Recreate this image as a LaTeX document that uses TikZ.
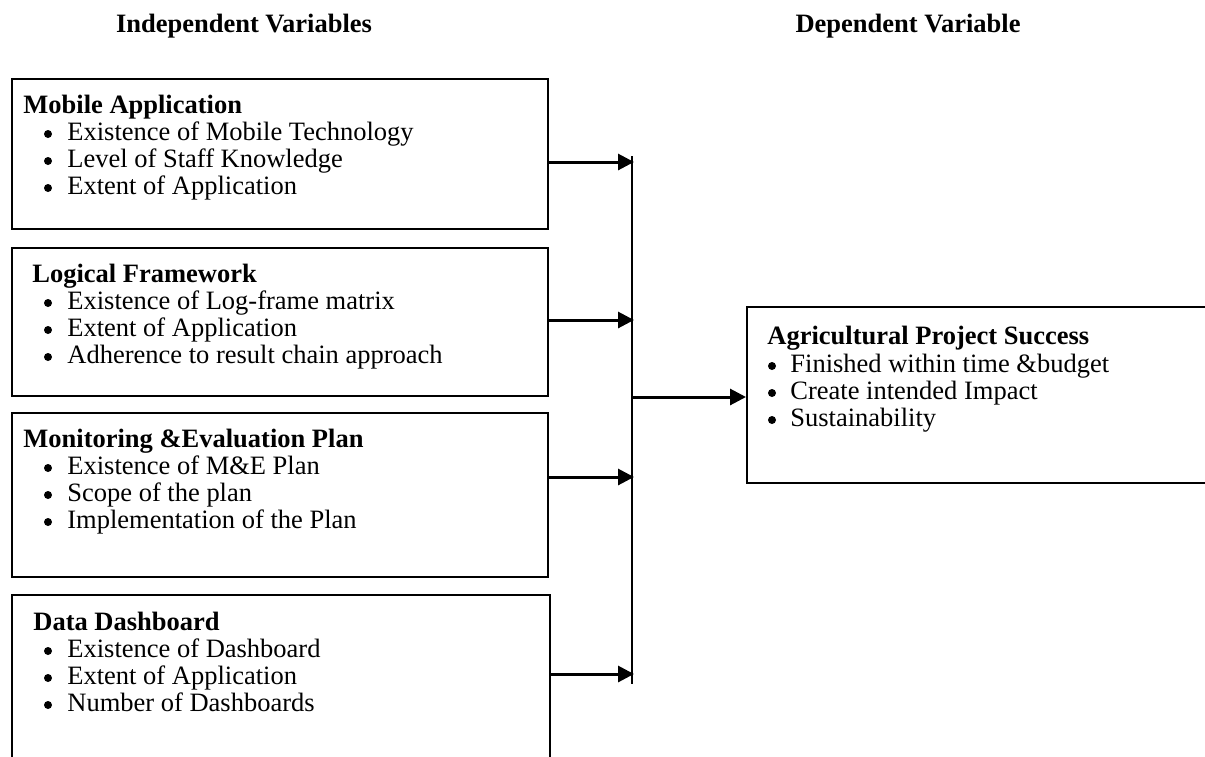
\documentclass[tikz,border=0pt]{standalone}
\usepackage{fontspec}
\setmainfont{Liberation Serif}
\usetikzlibrary{arrows.meta}
\begin{document}
\begin{tikzpicture}[x=0.5pt,y=-0.5pt,
  hdr/.style={font=\fontsize{13.25pt}{15pt}\selectfont\bfseries, inner sep=0pt, anchor=base},
  ttl/.style={font=\fontsize{13.25pt}{15pt}\selectfont\bfseries, inner sep=0pt, anchor=base west},
  itm/.style={font=\fontsize{13.25pt}{15pt}\selectfont, inner sep=0pt, anchor=base west},
  bul/.style={circle, fill=black, inner sep=0pt, minimum size=4pt, yshift=3pt},
  box/.style={draw, line width=1pt, anchor=north west, inner sep=0pt},
  arr/.style={line width=1.5pt, -{Triangle[length=8pt,width=8pt]}},
  vline/.style={line width=1pt}]
\useasboundingbox (0,0) rectangle (1205,756);
\clip (0,0) rectangle (1205,756);
% headers
\node[hdr] (hI) at (244,32) {Independent Variables};
\node[hdr] (hD) at (908,32) {Dependent Variable};
% boxes
\node[box, minimum width=268pt, minimum height=75pt] (mob) at (11,78) {};
\node[box, minimum width=268pt, minimum height=74pt] (log) at (11,247) {};
\node[box, minimum width=268pt, minimum height=82pt] (mne) at (11,412) {};
\node[box, minimum width=269pt, minimum height=83pt] (dash) at (11,594) {};
\node[box, minimum width=231pt, minimum height=88pt] (dv) at (746,306) {};
% box 1
\node[ttl] (t1) at (23,113) {Mobile Application};
\node[bul] (b11) at (48,140) {}; \node[itm] (i11) at (67,140) {Existence of Mobile Technology};
\node[bul] (b12) at (48,167) {}; \node[itm] (i12) at (67,167) {Level of Staff Knowledge};
\node[bul] (b13) at (48,194) {}; \node[itm] (i13) at (67,194) {Extent of Application};
% box 2
\node[ttl] (t2) at (32,282) {Logical Framework};
\node[bul] (b21) at (48,309) {}; \node[itm] (i21) at (67,309) {Existence of Log-frame matrix};
\node[bul] (b22) at (48,336) {}; \node[itm] (i22) at (67,336) {Extent of Application};
\node[bul] (b23) at (48,363) {}; \node[itm] (i23) at (67,363) {Adherence to result chain approach};
% box 3
\node[ttl] (t3) at (23,447) {Monitoring \&Evaluation Plan};
\node[bul] (b31) at (48,474) {}; \node[itm] (i31) at (67,474) {Existence of M\&E Plan};
\node[bul] (b32) at (48,501) {}; \node[itm] (i32) at (67,501) {Scope of the plan};
\node[bul] (b33) at (48,528) {}; \node[itm] (i33) at (67,528) {Implementation of the Plan};
% box 4
\node[ttl] (t4) at (33,630) {Data Dashboard};
\node[bul] (b41) at (48,657) {}; \node[itm] (i41) at (67,657) {Existence of Dashboard};
\node[bul] (b42) at (48,684) {}; \node[itm] (i42) at (67,684) {Extent of Application};
\node[bul] (b43) at (48,711) {}; \node[itm] (i43) at (67,711) {Number of Dashboards};
% dependent box
\node[ttl] (t5) at (767,344) {Agricultural Project Success};
\node[bul] (b51) at (772,372) {}; \node[itm] (i51) at (790,372) {Finished within time \&budget};
\node[bul] (b52) at (772,399) {}; \node[itm] (i52) at (790,399) {Create intended Impact};
\node[bul] (b53) at (772,426) {}; \node[itm] (i53) at (790,426) {Sustainability};
% connectors
\coordinate (vt) at (632,156);
\coordinate (vb) at (632,684);
\coordinate (j1) at (634,162);
\coordinate (j2) at (634,320);
\coordinate (j3) at (634,477);
\coordinate (j4) at (634,674);
\coordinate (j5) at (632,397);
\draw[vline] (vt) -- (vb);
\draw[arr] (mob.east |- j1) -- (j1);
\draw[arr] (log.east |- j2) -- (j2);
\draw[arr] (mne.east |- j3) -- (j3);
\draw[arr] (dash.east |- j4) -- (j4);
\draw[arr] (j5) -- (dv.west |- j5);
\end{tikzpicture}
\end{document}
